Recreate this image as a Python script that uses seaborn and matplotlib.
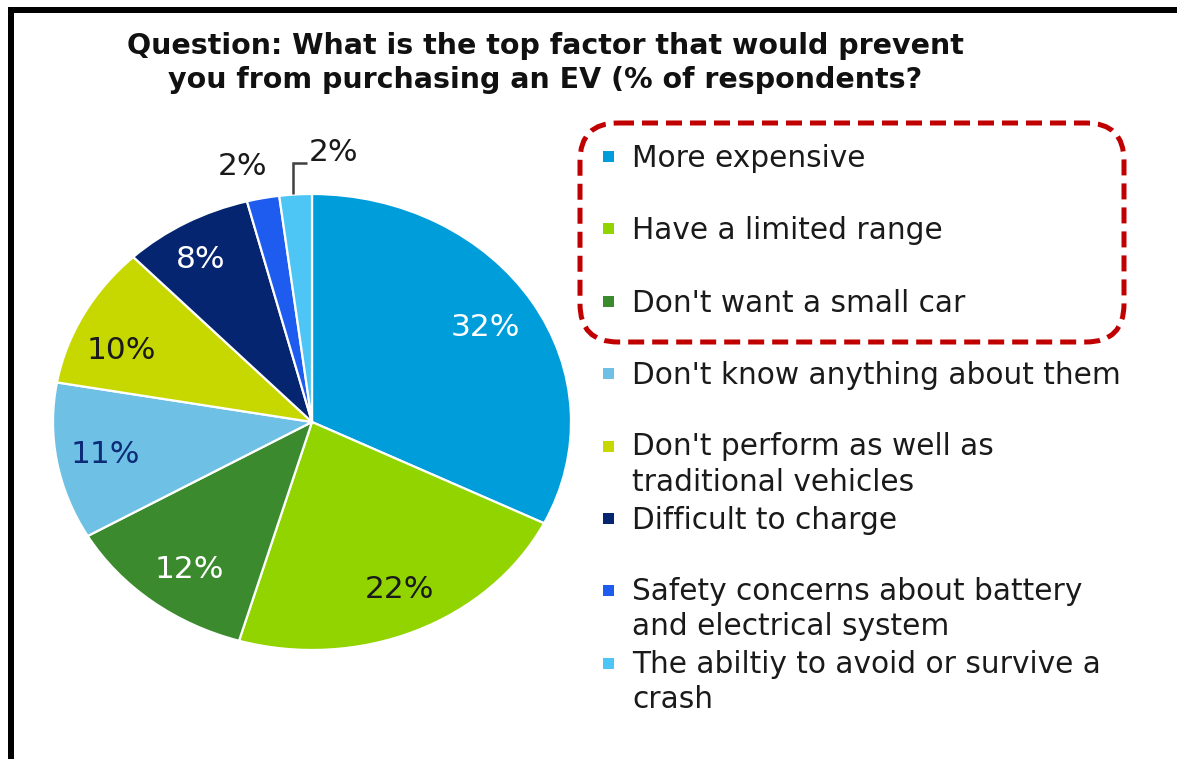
import matplotlib
matplotlib.use("Agg")
import matplotlib.pyplot as plt
import seaborn as sns
import numpy as np
from matplotlib.patches import FancyBboxPatch, Rectangle

# ---------------- data ----------------
title = "Question: What is the top factor that would prevent\nyou from purchasing an EV (% of respondents?"
categories = [
    "More expensive",
    "Have a limited range",
    "Don't want a small car",
    "Don't know anything about them",
    "Don't perform as well as\ntraditional vehicles",
    "Difficult to charge",
    "Safety concerns about battery\nand electrical system",
    "The abiltiy to avoid or survive a\ncrash",
]
values = [32, 22, 12, 11, 10, 8, 2, 2]
value_labels = ["32%", "22%", "12%", "11%", "10%", "8%", "2%", "2%"]
colors = ["#009DDB", "#92D400", "#3C8A2E", "#6EC1E4", "#C7D800", "#052570", "#1E5CF0", "#4DC6F6"]
label_colors = ["white", "#1a1a1a", "white", "#0D2C78", "#1a1a1a", "white", "#1a1a1a", "#1a1a1a"]

# ---------------- layout ----------------
sns.set_theme(style="white")
plt.rcParams["font.family"] = ["DejaVu Sans"]
W, H = 1177, 759
fig = plt.figure(figsize=(W / 100, H / 100), dpi=100)
fig.patch.set_facecolor("white")

cx, cy, rx, ry = 312, 422, 259, 228
ax = fig.add_axes([(cx - rx) / W, 1 - (cy + ry) / H, 2 * rx / W, 2 * ry / H])
wedges, _ = ax.pie(values, colors=colors, startangle=90, counterclock=False,
                   wedgeprops=dict(edgecolor="white", linewidth=1.6))
ax.set_aspect("auto")
ax.set_xlim(-1, 1)
ax.set_ylim(-1, 1)
ax.axis("off")

# label placement: (radius fraction, angle tweak in degrees)
label_pos = [(0.79, 0), (0.81, 1), (0.80, 2), (0.81, 0), (0.80, 5), (0.83, 2), (1.15, 2.5), None]
for w, lab, c, pos in zip(wedges, value_labels, label_colors, label_pos):
    mid = np.deg2rad((w.theta1 + w.theta2) / 2)
    if pos is None:
        x0 = np.cos(mid) - 0.01
        ax.plot([x0, x0, x0 + 0.054], [1.0, 1.136, 1.136], color="#404040", lw=1.8,
                clip_on=False, solid_capstyle="butt", solid_joinstyle="miter")
        ax.text(x0 + 0.06, 1.184, lab, ha="left", va="center", fontsize=22.5, color=c, clip_on=False)
        continue
    r, dt = pos
    a = mid + np.deg2rad(dt)
    ax.text(r * np.cos(a), r * np.sin(a), lab, ha="center", va="center",
            fontsize=22.5, color=c, clip_on=False)

# overlay in pixel coordinates
ov = fig.add_axes([0, 0, 1, 1])
ov.set_xlim(0, W)
ov.set_ylim(H, 0)
ov.axis("off")
ov.patch.set_alpha(0)

# frame lines
ov.plot([8, W], [10, 10], color="black", lw=6 * 0.72, solid_capstyle="butt")
ov.plot([11, 11], [7, H], color="black", lw=6 * 0.72, solid_capstyle="butt")

# title (baseline given for the last line)
ov.text(545, 88, title, ha="center", va="baseline", fontsize=20.5, fontweight="bold",
        color="#111111", linespacing=1.26)

# legend
y0, step, line_h = 167, 72.4, 34
for i, (cat, col) in enumerate(zip(categories, colors)):
    yb = y0 + i * step
    nl = cat.count("\n")
    ov.add_patch(Rectangle((603, yb - 16), 11, 11, color=col, lw=0))
    ov.text(632, yb + nl * line_h, cat, ha="left", va="baseline", fontsize=21.3,
            color="#1a1a1a", linespacing=1.27)

# red dashed highlight box
box = FancyBboxPatch((580, 123), 544, 219, boxstyle="round,pad=0,rounding_size=38",
                     fill=False, edgecolor="#C00000", lw=3.6, linestyle=(0, (3.2, 1.6)))
ov.add_patch(box)

fig.savefig("out.png", dpi=100, facecolor="white")
